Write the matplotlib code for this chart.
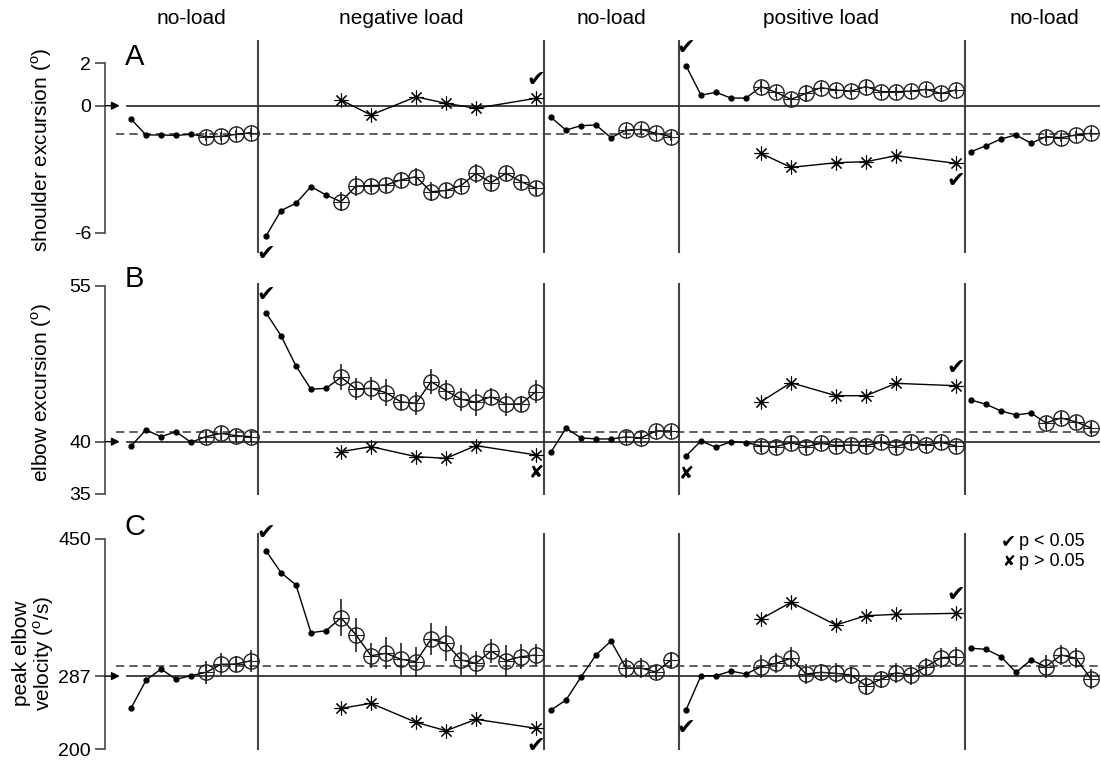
import numpy as np
import matplotlib
matplotlib.use("Agg")
import matplotlib.pyplot as plt

plt.rcParams['font.family'] = ['Liberation Sans', 'DejaVu Sans']
plt.rcParams['mathtext.fontset'] = 'custom'
plt.rcParams['mathtext.rm'] = 'Liberation Sans'
plt.rcParams['axes.unicode_minus'] = False

# trial layout: 5 blocks, first 5 trials of each block are single trials (dots),
# the rest are averaged (circles with SE bars)
block_names = ['no-load', 'negative load', 'no-load', 'positive load', 'no-load']
block_sizes = [9, 19, 9, 19, 9]
# catch trials, one list per load block
catch_neg = [14, 16, 19, 21, 23, 27]
catch_pos = [42, 44, 47, 49, 51, 55]

# A - shoulder excursion
shoulder = [-0.63, -1.38, -1.38, -1.40, -1.35, -1.46, -1.45, -1.35, -1.27,
            -6.15, -4.95, -4.60, -3.82, -4.21, -4.53, -3.79, -3.77, -3.74, -3.50,
            -3.35, -4.06, -4.00, -3.77, -3.19, -3.63, -3.19, -3.58, -3.90,
            -0.55, -1.15, -0.94, -0.91, -1.51, -1.15, -1.12, -1.30, -1.46,
            1.89, 0.50, 0.63, 0.36, 0.36, 0.90, 0.63, 0.30, 0.58, 0.85,
            0.74, 0.69, 0.90, 0.66, 0.66, 0.69, 0.77, 0.58, 0.74,
            -2.17, -1.89, -1.57, -1.38, -1.77, -1.46, -1.51, -1.38, -1.30]
shoulder_err = [0.2, 0.2, 0.2, 0.2,
                0.45, 0.45, 0.3, 0.35, 0.35, 0.4, 0.45, 0.35, 0.3, 0.45, 0.4, 0.3, 0.35, 0.3,
                0.2, 0.2, 0.15, 0.2,
                0.25, 0.2, 0.25, 0.4, 0.2, 0.2, 0.2, 0.25, 0.2, 0.2, 0.2, 0.2, 0.25, 0.2,
                0.25, 0.2, 0.2, 0.2]
shoulder_catch = [0.27, -0.44, 0.42, 0.11, -0.12, 0.35,
                  -2.25, -2.91, -2.69, -2.64, -2.36, -2.72]
shoulder_ref = 0
shoulder_mean = -1.33
shoulder_ticks = [2, 0, -6]

# B - elbow excursion
elbow = [39.59, 41.13, 40.48, 40.96, 39.94, 40.48, 40.80, 40.58, 40.48,
         52.40, 50.19, 47.28, 45.04, 45.13, 46.19, 45.07, 45.13, 44.71, 43.82,
         43.69, 45.77, 44.90, 44.08, 43.79, 44.33, 43.60, 43.63, 44.81,
         39.00, 41.30, 40.36, 40.26, 40.26, 40.45, 40.36, 41.03, 41.03,
         38.62, 40.07, 39.46, 40.00, 39.90, 39.59, 39.52, 39.90, 39.52, 39.84,
         39.62, 39.68, 39.62, 39.94, 39.52, 39.94, 39.68, 39.94, 39.59,
         44.00, 43.60, 42.95, 42.57, 42.76, 41.80, 42.28, 41.90, 41.32]
elbow_err = [0.5, 0.6, 0.5, 0.5,
             1.25, 1.1, 1.1, 1.3, 0.8, 1.1, 1.2, 1.0, 1.1, 1.3, 0.8, 1.1, 0.8, 1.1,
             0.5, 0.6, 0.5, 0.5,
             0.6, 0.6, 0.6, 0.6, 0.5, 0.5, 0.6, 0.6, 0.5, 0.6, 0.5, 0.5, 0.5, 0.5,
             0.6, 0.6, 0.6, 0.6]
elbow_catch = [39.04, 39.52, 38.56, 38.40, 39.62, 38.72,
               43.85, 45.67, 44.42, 44.42, 45.61, 45.38]
elbow_ref = 40
elbow_mean = 40.96
elbow_ticks = [55, 40, 35]

# C - peak elbow velocity
velocity = [248.7, 282.1, 295.5, 283.2, 287.5, 291.5, 301.0, 301.4, 305.3,
            436.1, 410.0, 395.3, 338.6, 341.0, 356.4, 335.9, 311.3, 314.1, 307.0,
            304.2, 330.8, 326.0, 306.2, 302.3, 316.9, 305.4, 310.1, 312.1,
            246.7, 258.6, 286.0, 312.1, 328.7, 296.6, 296.6, 291.9, 306.2,
            246.7, 287.5, 287.5, 293.0, 289.5, 298.2, 302.2, 308.2, 289.5, 291.5,
            290.3, 288.3, 275.6, 283.2, 291.1, 288.3, 298.2, 308.9, 310.1,
            320.1, 318.9, 310.1, 291.5, 306.2, 298.2, 312.1, 308.2, 283.6]
velocity_err = [14, 13, 9, 13,
                22, 20, 15, 19, 19, 18, 19, 21, 18, 14, 14, 18, 15, 13,
                12, 12, 8, 10,
                14, 12, 13, 12, 10, 12, 10, 10, 10, 12, 12, 10, 12, 12,
                14, 12, 12, 12]
velocity_catch = [248.7, 254.7, 232.1, 222.1, 235.7, 225.0,
                  354.9, 374.7, 347.8, 358.8, 360.4, 361.6]
velocity_ref = 287
velocity_mean = 299
velocity_ticks = [450, 287, 200]

# significance marks: (trial, series, symbol, up/down)
shoulder_sig = [(9, 'main', '✔', -1), (27, 'catch', '✔', 1),
                (37, 'main', '✔', 1), (55, 'catch', '✔', -1)]
elbow_sig = [(9, 'main', '✔', 1), (27, 'catch', '✘', -1),
             (37, 'main', '✘', -1), (55, 'catch', '✔', 1)]
velocity_sig = [(9, 'main', '✔', 1), (27, 'catch', '✔', -1),
                (37, 'main', '✔', -1), (55, 'catch', '✔', 1)]


def draw_panel(ax, values, errs, catch, ref, mean, ticks, ylim, sig):
    values = np.asarray(values, dtype=float)
    x = np.arange(len(values))
    errs = list(errs)
    start = 0
    for size in block_sizes:
        xs = x[start:start + size]
        ys = values[start:start + size]
        ax.plot(xs, ys, color='k', lw=1.0, zorder=3)
        ax.plot(xs[:5], ys[:5], 'o', ms=3.5, color='k', zorder=4)
        e = errs[:size - 5]
        errs = errs[size - 5:]
        ax.errorbar(xs[5:], ys[5:], yerr=e, fmt='none', ecolor='#111',
                    elinewidth=1.1, zorder=4)
        ax.plot(xs[5:], ys[5:], 'o', ms=11, mfc='none', mec='#222', mew=1.0, zorder=5)
        ax.plot(xs[5:], ys[5:], '+', ms=11, color='#222', mew=0.8, zorder=5)
        start += size

    n = len(catch_neg)
    for trials, vals in [(catch_neg, catch[:n]), (catch_pos, catch[n:])]:
        ax.plot(trials, vals, color='k', lw=1.0, marker=(8, 2, 0),
                ms=10, mew=0.8, zorder=5)

    # baseline, mean of first block, and block separators
    ax.plot([-0.27, 64.6], [ref, ref], color='#333', lw=1.3, zorder=2)
    ax.plot([-1.0, 64.6], [mean, mean], color='#444', lw=1.2,
            ls=(0, (5, 3)), zorder=2)
    ax.annotate('', xy=(-0.75, ref), xytext=(-1.733, ref),
                arrowprops=dict(arrowstyle='-|>', color='k', lw=1.0,
                                mutation_scale=12, shrinkA=0, shrinkB=0),
                annotation_clip=False)
    for s in [8.5, 27.55, 36.55, 55.6]:
        ax.axvline(s, color='#444', lw=1.5, zorder=1)

    all_catch = catch_neg + catch_pos
    for trial, series, sym, d in sig:
        if series == 'main':
            yv = values[trial]
        else:
            yv = catch[all_catch.index(trial)]
        size = 16 if sym == '✔' else 13
        ax.annotate(sym, (trial, yv), xytext=(0, 18 * d), textcoords='offset pixels',
                    ha='center', va='center', fontsize=size, family='DejaVu Sans',
                    annotation_clip=False)

    ax.set_xlim(-1.733, 64.6)
    ax.set_ylim(*ylim)
    ax.set_xticks([])
    ax.set_yticks(ticks)
    for side in ['top', 'right', 'bottom']:
        ax.spines[side].set_visible(False)
    ax.spines['left'].set_bounds(min(ticks), max(ticks))
    ax.spines['left'].set_color('#555')
    ax.spines['left'].set_linewidth(1.3)
    ax.tick_params(axis='y', length=7, width=1.3, color='#555',
                   labelsize=14, pad=3)
    ax.patch.set_visible(False)


fig = plt.figure(figsize=(11.01, 7.6), dpi=100)
W, H = 1101.0, 760.0


def px_axes(top, bottom):
    return fig.add_axes([105 / W, 1 - bottom / H, 995 / W, (bottom - top) / H])


ax_a = px_axes(40, 253)
ax_b = px_axes(283, 495)
ax_c = px_axes(533, 750)

draw_panel(ax_a, shoulder, shoulder_err, shoulder_catch, shoulder_ref,
           shoulder_mean, shoulder_ticks, (-6.95, 3.1), shoulder_sig)
draw_panel(ax_b, elbow, elbow_err, elbow_catch, elbow_ref,
           elbow_mean, elbow_ticks, (34.87, 55.26), elbow_sig)
draw_panel(ax_c, velocity, velocity_err, velocity_catch, velocity_ref,
           velocity_mean, velocity_ticks, (199.2, 457.1), velocity_sig)

# block headers
for name, xc in zip(block_names, [191, 401, 611, 821, 1044]):
    fig.text(xc / W, 1 - 18 / H, name, ha='center', va='center', fontsize=15)

# panel letters
for letter, yb in zip(['A', 'B', 'C'], [65, 287, 535]):
    fig.text(125 / W, 1 - yb / H, letter, ha='left', va='baseline', fontsize=21)

# y labels
fig.text(42 / W, 1 - 150 / H, r'shoulder excursion ($^\mathrm{o}$)',
         rotation=90, ha='center', va='center', fontsize=15)
fig.text(42 / W, 1 - 393 / H, r'elbow excursion ($^\mathrm{o}$)',
         rotation=90, ha='center', va='center', fontsize=15)
fig.text(34 / W, 1 - 653 / H, 'peak elbow\n' + r'velocity ($^\mathrm{o}$/s)',
         rotation=90, ha='center', va='center', fontsize=15, linespacing=1.0)

# legend
fig.text(1001 / W, 1 - 541 / H, '✔', family='DejaVu Sans', fontsize=13,
         ha='left', va='center')
fig.text(1019 / W, 1 - 541 / H, 'p < 0.05', fontsize=13, ha='left', va='center')
fig.text(1002 / W, 1 - 561 / H, '✘', family='DejaVu Sans', fontsize=11,
         ha='left', va='center')
fig.text(1019 / W, 1 - 561 / H, 'p > 0.05', fontsize=13, ha='left', va='center')

fig.savefig('out.png', dpi=100)
